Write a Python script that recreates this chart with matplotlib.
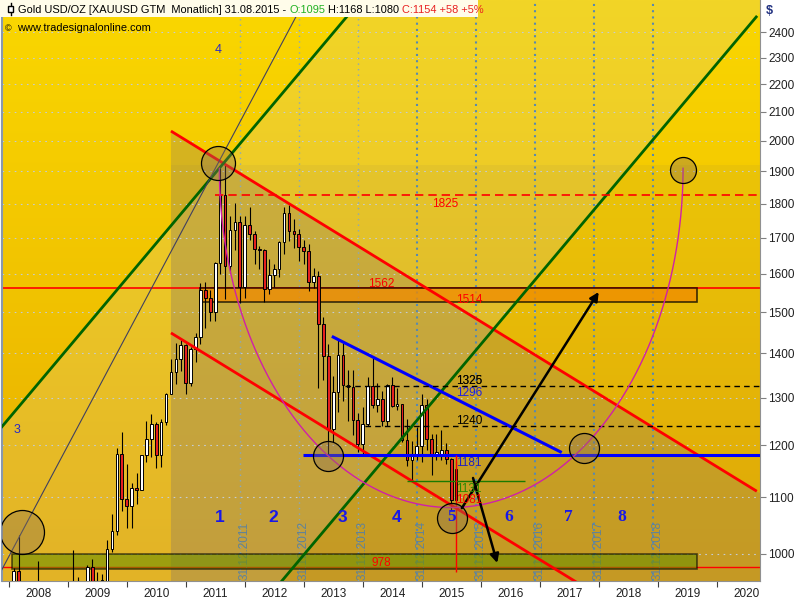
import numpy as np
import matplotlib
matplotlib.use("Agg")
import matplotlib.pyplot as plt
from matplotlib.patches import Rectangle, Polygon
from matplotlib.colors import LinearSegmentedColormap
from matplotlib.ticker import FixedLocator, FixedFormatter, NullFormatter

plt.rcParams['font.family'] = ['Liberation Sans', 'DejaVu Sans']

# Gold (XAUUSD) monthly candles, Jan 2008 .. Aug 2015
opens = [834, 924, 972, 916, 865, 886, 926, 913, 833, 884, 718, 816,
         866, 927, 942, 917, 884, 979, 927, 955, 955, 1008, 1040, 1182,
         1097, 1083, 1118, 1113, 1180, 1213, 1244, 1181, 1248, 1308, 1358, 1386,
         1421, 1332, 1410, 1439, 1556, 1536, 1500, 1628, 1826, 1622, 1722, 1746,
         1565, 1738, 1711, 1668, 1664, 1559, 1598, 1614, 1687, 1772, 1719, 1711,
         1675, 1663, 1578, 1595, 1472, 1393, 1234, 1312, 1396, 1327, 1323, 1253,
         1202, 1244, 1326, 1284, 1296, 1250, 1327, 1282, 1287, 1210, 1171, 1182,
         1199, 1283, 1212, 1183, 1183, 1190, 1172, 1095]
highs = [934, 976, 1032, 937, 935, 933, 988, 916, 912, 936, 826, 889,
         937, 1007, 962, 918, 982, 992, 970, 967, 1024, 1070, 1195, 1227,
         1162, 1127, 1145, 1180, 1249, 1265, 1247, 1254, 1310, 1388, 1424, 1432,
         1423, 1414, 1448, 1575, 1577, 1558, 1632, 1912, 1920, 1764, 1803, 1764,
         1764, 1791, 1718, 1677, 1669, 1640, 1627, 1692, 1790, 1796, 1755, 1725,
         1694, 1681, 1617, 1607, 1488, 1423, 1348, 1434, 1425, 1362, 1361, 1267,
         1280, 1345, 1392, 1332, 1315, 1330, 1345, 1322, 1287, 1255, 1208, 1238,
         1307, 1297, 1224, 1224, 1232, 1205, 1175, 1168]
lows = [833, 882, 891, 853, 851, 859, 900, 774, 736, 681, 701, 749,
        802, 919, 866, 866, 881, 920, 905, 933, 931, 1003, 1033, 1075,
        1044, 1045, 1088, 1113, 1166, 1177, 1155, 1157, 1242, 1308, 1330, 1360,
        1308, 1325, 1380, 1422, 1462, 1478, 1478, 1600, 1535, 1603, 1666, 1523,
        1537, 1693, 1627, 1613, 1527, 1548, 1564, 1592, 1655, 1692, 1672, 1635,
        1626, 1555, 1562, 1321, 1338, 1180, 1207, 1270, 1292, 1251, 1221, 1186,
        1182, 1239, 1277, 1268, 1240, 1240, 1280, 1273, 1206, 1160, 1131, 1170,
        1167, 1191, 1142, 1170, 1170, 1162, 1077, 1080]
closes = [924, 972, 916, 865, 886, 926, 913, 833, 884, 718, 816, 866,
          927, 942, 917, 884, 979, 927, 955, 955, 1008, 1040, 1182, 1097,
          1083, 1118, 1113, 1180, 1213, 1244, 1181, 1248, 1308, 1358, 1386, 1421,
          1332, 1410, 1439, 1556, 1536, 1500, 1628, 1826, 1622, 1722, 1746, 1565,
          1738, 1711, 1668, 1664, 1559, 1598, 1614, 1687, 1772, 1719, 1711, 1675,
          1663, 1578, 1595, 1472, 1393, 1234, 1312, 1396, 1327, 1323, 1253, 1202,
          1244, 1326, 1284, 1296, 1250, 1327, 1282, 1287, 1210, 1171, 1182, 1199,
          1283, 1212, 1183, 1183, 1190, 1172, 1095, 1154]
first_year = 2008

years = list(range(2008, 2021))
price_ticks = list(range(1000, 2500, 100))

# drawn levels / lines (year, price)
red_top = [(2010.75, 2033), (2020.68, 1111)]
red_low = [(2010.75, 1449), (2020.68, 792)]
green_a = [(2007.85, 1233), (2015.88, 3172)]
green_b = [(2012.64, 957), (2020.67, 2462)]
thin_line = [(2008.225, 1038), (2011.55, 1927)]
blue_trend = [(2013.50, 1439), (2017.35, 1187)]
circles = [(2011.55, 1927, 17), (2019.43, 1905, 13), (2013.41, 1179, 15),
           (2017.75, 1195, 15), (2015.51, 1062, 15), (2008.225, 1038, 22)]
wave_x = [2011.58, 2012.48, 2013.65, 2014.58, 2015.50, 2016.48, 2017.48, 2018.40]
wave_labels = ['1', '2', '3', '4', '5', '6', '7', '8']
arc_center, arc_halfwidth, arc_top, arc_bottom = 2015.50, 3.93, 1910, 1081
box_start = 2010.75
box_top = 1920


def line_at(p, t):
    (x0, y0), (x1, y1) = p
    k = np.log(y1 / y0) / (x1 - x0)
    return y0 * np.exp(k * (np.asarray(t, dtype=float) - x0))


fig = plt.figure(figsize=(8, 6), dpi=100)
pos = [2 / 800, 19 / 600, 758 / 800, 581 / 600]
bg = fig.add_axes(pos, zorder=0)
bg_cmap = LinearSegmentedColormap.from_list('bg', ['#fad700', '#f1c300', '#e6ab00'])
bg.imshow(np.linspace(0, 1, 200)[:, None], cmap=bg_cmap, aspect='auto', extent=[0, 1, 0, 1])
bg.set_axis_off()

ax = fig.add_axes(pos, zorder=1)
ax.patch.set_visible(False)
ax.set_yscale('log')
X0, X1 = 2007.886, 2020.734
ax.set_xlim(X0, X1)
ax.set_ylim(955.7, 2533)

# shaded zones
chan = [(2005, line_at(green_a, 2005)), (2015.5, line_at(green_a, 2015.5)),
        (2021.5, line_at(green_b, 2021.5)), (2011.5, line_at(green_b, 2011.5))]
ax.add_patch(Polygon(chan, closed=True, facecolor='#d8d0b0', alpha=0.22, lw=0, zorder=1))
ax.add_patch(Rectangle((box_start, 900), 11, box_top - 900, facecolor='#807060',
                       alpha=0.08, lw=0, zorder=1))
below = [(box_start, line_at(red_top, box_start)), (2021, line_at(red_top, 2021)),
         (2021, 900), (box_start, 900)]
ax.add_patch(Polygon(below, closed=True, facecolor='#8c7c68', alpha=0.3, lw=0, zorder=1))

# grid
for p in price_ticks:
    ax.axhline(p, color='#c4ccd4', lw=0.8, ls=(0, (1.5, 4)), zorder=1.5)
for yr in range(2011, 2019):
    thick = yr >= 2014
    ax.axvline(yr + 11 / 12, color='#5889b0' if thick else '#86a8c0',
               lw=1.5 if thick else 1.0, ls=(0, (1, 2)) if thick else (0, (1, 3)), zorder=1.5)
    ax.text(yr + 1, 958, '31.12.%d' % yr, rotation=90, ha='center', va='bottom',
            fontsize=8.5, color='#5f8299', zorder=2)

# horizontal levels
ax.axhline(1562, color='red', lw=1.2, zorder=1.8)
ax.axhline(978, color='red', lw=1.0, zorder=1.8)
ax.add_patch(Rectangle((2011.25, 1527), 2019.666 - 2011.25, 1562 - 1527, facecolor='#f08a00',
                       alpha=0.75, edgecolor='black', lw=1.2, zorder=2))
ax.add_patch(Rectangle((2008.05, 975), 2019.666 - 2008.05, 1000 - 975, facecolor='#6e9000',
                       alpha=0.6, edgecolor='black', lw=1.2, zorder=2))

# candles
t = first_year + np.arange(len(closes)) / 12
o, h, l, c = map(np.array, (opens, highs, lows, closes))
ax.vlines(t, l, h, color='black', lw=0.8, zorder=3)
up = c >= o
body_lo = np.minimum(o, c)
body_h = np.maximum(np.abs(c - o), 3)
ax.bar(t, body_h, bottom=body_lo, width=0.045, color=np.where(up, 'white', '#e42020'),
       edgecolor='black', lw=0.7, zorder=3)

# trend lines
span = np.array([box_start, 2020.68])
ax.plot(span, line_at(red_top, span), color='red', lw=2, zorder=4, solid_capstyle='butt')
span = np.array([box_start, 2018.4])
ax.plot(span, line_at(red_low, span), color='red', lw=2, zorder=4, solid_capstyle='butt')
span = np.array([2007.5, 2014.3])
ax.plot(span, line_at(green_a, span), color='#006400', lw=2, zorder=4)
span = np.array([2012.4, 2020.67])
ax.plot(span, line_at(green_b, span), color='#006400', lw=2, zorder=4)
span = np.array([2007.5, 2013.3])
ax.plot(span, line_at(thin_line, span), color='#404060', lw=0.8, zorder=4)
span = np.array([2013.50, 2017.35])
ax.plot(span, line_at(blue_trend, span), color='#0000ff', lw=2.2, zorder=4)

ax.hlines(1181, 2012.99, X1, color='#0000ff', lw=2.2, zorder=4)
ax.hlines(1825, 2011.50, 2020.70, color='red', lw=1.2, ls=(0, (5, 3)), zorder=4)
ax.hlines(1325, 2013.70, X1, color='black', lw=1.0, ls=(0, (4, 3)), zorder=4)
ax.hlines(1240, 2014.04, X1, color='black', lw=1.0, ls=(0, (4, 3)), zorder=4)
ax.hlines(1131, 2014.75, 2016.75, color='#1a7a00', lw=1.0, zorder=4)
ax.vlines(2015.58, 970, 1181, color='red', lw=1.0, zorder=4)

# half-ellipse arc
th = np.linspace(0, np.pi, 200)
arc_x = arc_center - arc_halfwidth * np.cos(th)
arc_y = np.exp(np.log(arc_top) - np.log(arc_top / arc_bottom) * np.sin(th))
ax.plot(arc_x, arc_y, color='#d020a8', lw=1.0, zorder=4)

for cx, cy, r in circles:
    ax.plot(cx, cy, 'o', ms=2 * r * 0.72, mfc=(0.55, 0.45, 0.32, 0.38), mec='black',
            mew=0.9, zorder=5)

arrow = dict(arrowstyle='-|>', color='black', lw=1.8, mutation_scale=13, shrinkA=0, shrinkB=0)
ax.annotate('', xy=(2018.0, 1552), xytext=(2015.68, 1080), arrowprops=arrow, zorder=5)
ax.annotate('', xy=(2016.28, 985), xytext=(2015.87, 1136), arrowprops=arrow, zorder=5)

# level labels
lab = dict(fontsize=8.5, zorder=6)
ax.text(2014.09, 1565, '1562', color='red', va='baseline', **lab)
ax.text(2015.18, 1818, '1825', color='red', va='top', **lab)
ax.text(2015.59, 1531, '1514', color='red', va='center', **lab)
ax.text(2015.59, 1329, '1325', color='black', va='baseline', **lab)
ax.text(2015.59, 1329, '1326', color='black', va='baseline', alpha=0.7, **lab)
ax.text(2015.59, 1311, '1296', color='#2020e0', va='center', **lab)
ax.text(2015.59, 1244, '1240', color='black', va='baseline', **lab)
ax.text(2015.59, 1176, '1181', color='#2020c0', va='top', **lab)
ax.text(2015.59, 1127, '1131', color='#2a8a00', va='top', **lab)
ax.text(2015.59, 1095, '1081', color='red', va='center', **lab)
ax.text(2014.15, 980, '978', color='red', va='baseline', **lab)

for i, (wx, s) in enumerate(zip(wave_x, wave_labels)):
    fam = 'Liberation Sans' if i < 4 else 'Liberation Serif'
    ax.text(wx, 1064, s, ha='center', va='center', fontsize=12.5, fontweight='bold',
            family=fam, color='#1818e8', zorder=6)
ax.text(2011.55, 2329, '4', ha='center', va='center', fontsize=9, color='#2828c8', zorder=6)
ax.text(2008.14, 1231, '3', ha='center', va='center', fontsize=9, color='#2828c8', zorder=6)

# axes styling
ax.yaxis.tick_right()
ax.yaxis.set_major_locator(FixedLocator(price_ticks))
ax.yaxis.set_major_formatter(FixedFormatter([str(p) for p in price_ticks]))
ax.yaxis.set_minor_formatter(NullFormatter())
ax.yaxis.set_minor_locator(FixedLocator([]))
ax.tick_params(axis='y', which='major', length=4, color='#808080', labelsize=8.5,
               labelcolor='#202020', pad=2)
ax.xaxis.set_major_locator(FixedLocator(years))
ax.xaxis.set_major_formatter(NullFormatter())
ax.xaxis.set_minor_locator(FixedLocator([y + 0.5 for y in years]))
ax.xaxis.set_minor_formatter(FixedFormatter([str(y) for y in years]))
ax.tick_params(axis='x', which='major', length=4, color='#404040')
ax.tick_params(axis='x', which='minor', length=0, labelsize=8.5, labelcolor='#202020', pad=5)
for s in ('left', 'right', 'bottom'):
    ax.spines[s].set_color('#909090')
ax.spines['left'].set_color('#8898b0')
ax.spines['left'].set_linewidth(1.5)
ax.spines['top'].set_visible(False)

# header
fig.patches.append(Rectangle((0, 1 - 17 / 600), 478 / 800, 17 / 600, transform=fig.transFigure,
                             facecolor='#fffcea', edgecolor='none', zorder=10))
fig.add_artist(plt.Line2D([10.5 / 800] * 2, [1 - 3 / 600, 1 - 15 / 600], color='black', lw=1,
                          transform=fig.transFigure, zorder=11))
fig.patches.append(Rectangle((8 / 800, 1 - 12 / 600), 5 / 800, 6 / 600, transform=fig.transFigure,
                             facecolor='white', edgecolor='black', lw=1, zorder=12))
renderer = fig.canvas.get_renderer()
pieces = [('Gold USD/OZ [XAUUSD GTM  Monatlich] 31.08.2015 - ', 'black'),
          ('O:1095', '#20b020'), (' H:1168 L:1080 ', 'black'), ('C:1154 +58 +5%', '#e82020')]
x = 18
for s, col in pieces:
    tx = fig.text(x / 800, 1 - 13 / 600, s, color=col, fontsize=7.9, va='baseline', zorder=13)
    x += tx.get_window_extent(renderer).width
fig.text(5 / 800, 1 - 31 / 600, '\u00a9', fontsize=6.5, va='baseline', color='black', zorder=13)
fig.text(17 / 800, 1 - 31 / 600, 'www.tradesignalonline.com', fontsize=7.9, va='baseline',
         color='black', zorder=13)
fig.text(766 / 800, 1 - 14 / 600, '$', fontsize=9, fontweight='bold', color='#203080', va='baseline')

fig.savefig('out.png', dpi=100)
